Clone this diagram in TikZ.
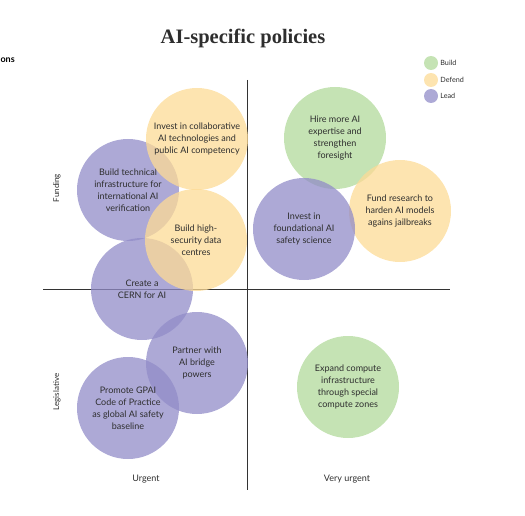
\documentclass[tikz,border=0pt]{standalone}
\usepackage{fontspec}
\setmainfont{Lato}
\newfontfamily\titlefont{Liberation Serif}
\definecolor{buildc}{HTML}{B1D99B}
\definecolor{defendc}{HTML}{FDDB95}
\definecolor{leadc}{HTML}{918CC8}
\definecolor{inkc}{HTML}{2E2E2E}
\begin{document}
\begin{tikzpicture}[x=1pt, y=-1pt, every node/.style={font=\fontsize{9}{12}\selectfont, text=inkc, align=center},
  blob/.style={circle, minimum size=102pt, inner sep=0pt, fill opacity=0.75, text opacity=1},
  build/.style={blob, fill=buildc}, defend/.style={blob, fill=defendc}, lead/.style={blob, fill=leadc},
  key/.style={circle, minimum size=14pt, inner sep=0pt, fill opacity=0.75},
  keytext/.style={anchor=west, inner sep=2pt, font=\fontsize{7.2}{8}\selectfont}]
  \useasboundingbox (0,0) rectangle (525,516);
  % axes
  \coordinate (top) at (247,80); \coordinate (bottom) at (247,490);
  \coordinate (left) at (43,289); \coordinate (right) at (450,289);
  \draw[line width=0.9pt, black!80] (top) -- (bottom);
  \draw[line width=0.9pt, black!80] (left) -- (right);
  \node (title) at (243,38) {\titlefont\bfseries\fontsize{20.5}{22}\selectfont AI-specific policies};
  \node[anchor=west, font=\bfseries\fontsize{9}{10}\selectfont, text=black] (cut) at (-3,60) {ons};
  % quadrants
  \node[build] (hire) at (335,138) {Hire more AI\\expertise and\\strengthen\\foresight};
  \node[defend] (fund) at (400,211) {Fund research to\\harden AI models\\agains jailbreaks};
  \node[lead] (found) at (304,229) {Invest in\\foundational AI\\safety science};
  \node[lead] (verif) at (128,190) {Build technical\\infrastructure for\\international AI\\verification};
  \node[defend] (collab) at (197,139) {Invest in collaborative\\AI technologies and\\public AI competency};
  \node[lead] (cern) at (142,289) {Create a\\CERN for AI};
  \node[defend] (secure) at (196,240) {Build high-\\security data\\centres};
  \node[lead] (bridge) at (197,363) {Partner with\\AI bridge\\powers};
  \node[lead] (gpai) at (128,408) {Promote GPAI\\Code of Practice\\as global AI safety\\baseline};
  \node[build] (zones) at (348,387) {Expand compute\\infrastructure\\through special\\compute zones};
  % labels
  \node[rotate=90, font=\fontsize{8}{9}\selectfont] (funding) at (57,188) {Funding};
  \node[rotate=90, font=\fontsize{8}{9}\selectfont] (legis) at (57,392) {Legislative};
  \node (urgent) at (146,479) {Urgent};
  \node (vurgent) at (347,479) {Very urgent};
  % legend
  \node[key, fill=buildc] (kb) at (431,63) {}; \node[keytext] at (kb.east) {Build};
  \node[key, fill=defendc] (kd) at (431,80) {}; \node[keytext] at (kd.east) {Defend};
  \node[key, fill=leadc] (kl) at (431,96) {}; \node[keytext] at (kl.east) {Lead};
\end{tikzpicture}
\end{document}
